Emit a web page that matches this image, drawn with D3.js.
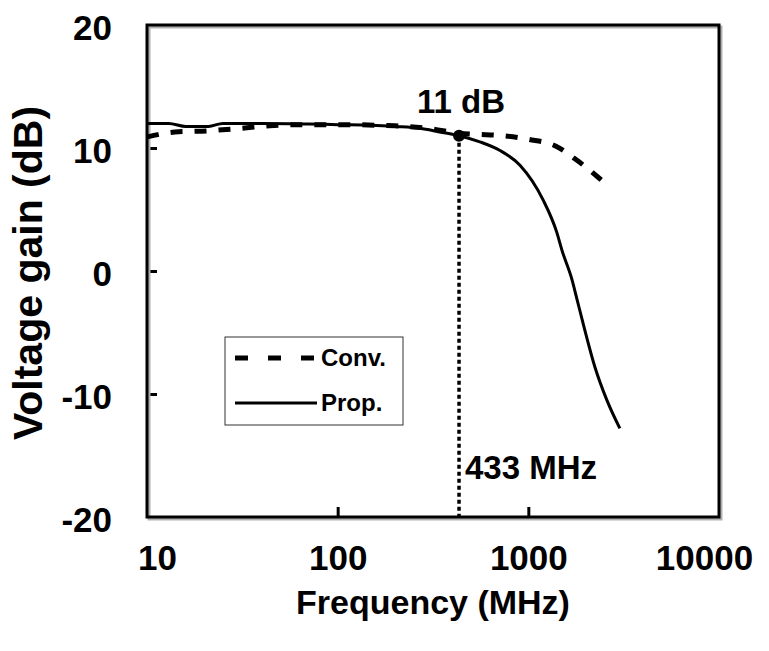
<!DOCTYPE html>
<html>
<head>
<meta charset="utf-8">
<script src="https://cdn.jsdelivr.net/npm/d3@7"></script>
<style>
  body { margin: 0; background: #fff; }
  text { font-family: "Liberation Sans", Arial, sans-serif; font-weight: bold; fill: #000; }
</style>
</head>
<body>
<svg id="chart" width="769" height="651"></svg>
<script>
// data (frequency in MHz, gain in dB)
const convFreq = [10, 14, 21, 31, 44, 63, 100, 200, 300, 433, 557, 668, 1007, 1396, 1800, 2372, 2520];
const convGain = [10.9, 11.3, 11.4, 11.6, 11.8, 11.9, 11.9, 11.8, 11.6, 11.2, 11.1, 11.05, 10.7, 10.15, 9.0, 7.5, 7.15];

const propFreq = [10, 13, 16, 21, 25, 40, 70, 100, 150, 200, 270, 343, 433, 557, 710, 904, 1193, 1413, 1500, 1694, 1800, 1933, 2234, 2582, 3020];
const propGain = [12.0, 12.0, 11.75, 11.75, 12.0, 12.0, 11.95, 11.9, 11.85, 11.75, 11.6, 11.3, 11.0, 10.5, 9.8, 8.6, 5.8, 3.1, 1.7, -0.7, -2.3, -4.2, -7.8, -10.5, -12.8];

const xTicks = [10, 100, 1000, 10000];
const yTicks = [-20, -10, 0, 10, 20];

const markFreq = 433;
const markGain = 11.0;

let margin = {top: 25, right: 50, bottom: 134, left: 147};
let width = 769 - margin.left - margin.right;
let height = 651 - margin.top - margin.bottom;

let svg = d3.select("#chart")
    .append("g")
    .attr("transform", "translate(" + margin.left + "," + margin.top + ")");

let x = d3.scaleLog()
    .domain([10, 10000])
    .range([0, width]);

let y = d3.scaleLinear()
    .domain([-20, 20])
    .range([height, 0]);

// axes: inward ticks, labels outside
let xAxis = d3.axisBottom(x)
    .tickValues(xTicks)
    .tickFormat(d => String(d))
    .tickSizeInner(-10)
    .tickSizeOuter(0)
    .tickPadding(28);

let yAxis = d3.axisLeft(y)
    .tickValues(yTicks)
    .tickFormat(d => String(d))
    .tickSizeInner(-10)
    .tickSizeOuter(0)
    .tickPadding(35);

let gx = svg.append("g")
    .attr("transform", "translate(0," + height + ")")
    .call(xAxis);
let gy = svg.append("g").call(yAxis);

[gx, gy].forEach(function (g) {
    g.select(".domain").remove();
    g.selectAll("line").attr("stroke", "#000").attr("stroke-width", 3);
    g.selectAll("text").style("font-size", "35px");
});

// no tick marks on the frame corners
gx.selectAll(".tick").filter(d => d === 10 || d === 10000).select("line").remove();
gy.selectAll(".tick").filter(d => d === 20 || d === -20).select("line").remove();
gx.selectAll(".tick").filter(d => d === 10).select("text").attr("dx", 10);
gx.selectAll(".tick").filter(d => d === 10000).select("text").attr("dx", -15);
gy.selectAll("text").attr("dy", "0.42em");

// frame with a light shadow
svg.append("rect")
    .attr("x", 2).attr("y", 2)
    .attr("width", width).attr("height", height)
    .attr("fill", "none")
    .attr("stroke", "#b0b0b0")
    .attr("stroke-width", 3);
svg.append("rect")
    .attr("width", width).attr("height", height)
    .attr("fill", "none")
    .attr("stroke", "#000")
    .attr("stroke-width", 3);

let line = d3.line()
    .x(d => x(d[0]))
    .y(d => y(d[1]))
    .curve(d3.curveMonotoneX);

let convData = convFreq.map((f, i) => [f, convGain[i]]);
let propData = propFreq.map((f, i) => [f, propGain[i]]);

svg.append("path")
    .datum(propData)
    .attr("fill", "none")
    .attr("stroke", "#000")
    .attr("stroke-width", 3)
    .attr("d", line);

svg.append("path")
    .datum(convData)
    .attr("fill", "none")
    .attr("stroke", "#000")
    .attr("stroke-width", 5)
    .attr("stroke-dasharray", "12,12")
    .attr("d", line);

// 433 MHz marker
svg.append("line")
    .attr("x1", x(markFreq)).attr("x2", x(markFreq))
    .attr("y1", y(markGain)).attr("y2", height)
    .attr("stroke", "#000")
    .attr("stroke-width", 3.5)
    .attr("stroke-dasharray", "4,3");

svg.append("circle")
    .attr("cx", x(markFreq))
    .attr("cy", y(markGain))
    .attr("r", 6)
    .attr("fill", "#000");

svg.append("text")
    .attr("x", x(markFreq) + 2)
    .attr("y", y(markGain) - 23)
    .attr("text-anchor", "middle")
    .style("font-size", "33px")
    .text("11 dB");

svg.append("text")
    .attr("x", x(markFreq) + 6)
    .attr("y", height - 38)
    .style("font-size", "33px")
    .text("433 MHz");

// legend
let legend = svg.append("g")
    .attr("transform", "translate(" + (225 - margin.left) + "," + (337 - margin.top) + ")");

legend.append("rect")
    .attr("width", 178).attr("height", 88)
    .attr("fill", "#fff")
    .attr("stroke", "#333")
    .attr("stroke-width", 1);

legend.append("line")
    .attr("x1", 10).attr("x2", 92)
    .attr("y1", 21).attr("y2", 21)
    .attr("stroke", "#000")
    .attr("stroke-width", 5)
    .attr("stroke-dasharray", "13,20");

legend.append("line")
    .attr("x1", 10).attr("x2", 92)
    .attr("y1", 66).attr("y2", 66)
    .attr("stroke", "#000")
    .attr("stroke-width", 3);

legend.append("text")
    .attr("x", 96).attr("y", 29)
    .style("font-size", "24px")
    .text("Conv.");

legend.append("text")
    .attr("x", 96).attr("y", 74)
    .style("font-size", "24px")
    .text("Prop.");

// axis titles
svg.append("text")
    .attr("x", width / 2)
    .attr("y", height + 97)
    .attr("text-anchor", "middle")
    .style("font-size", "34px")
    .text("Frequency (MHz)");

svg.append("text")
    .attr("transform", "translate(" + (-105) + "," + (height / 2 + 2) + ") rotate(-90)")
    .attr("text-anchor", "middle")
    .style("font-size", "41px")
    .text("Voltage gain (dB)");
</script>
</body>
</html>
